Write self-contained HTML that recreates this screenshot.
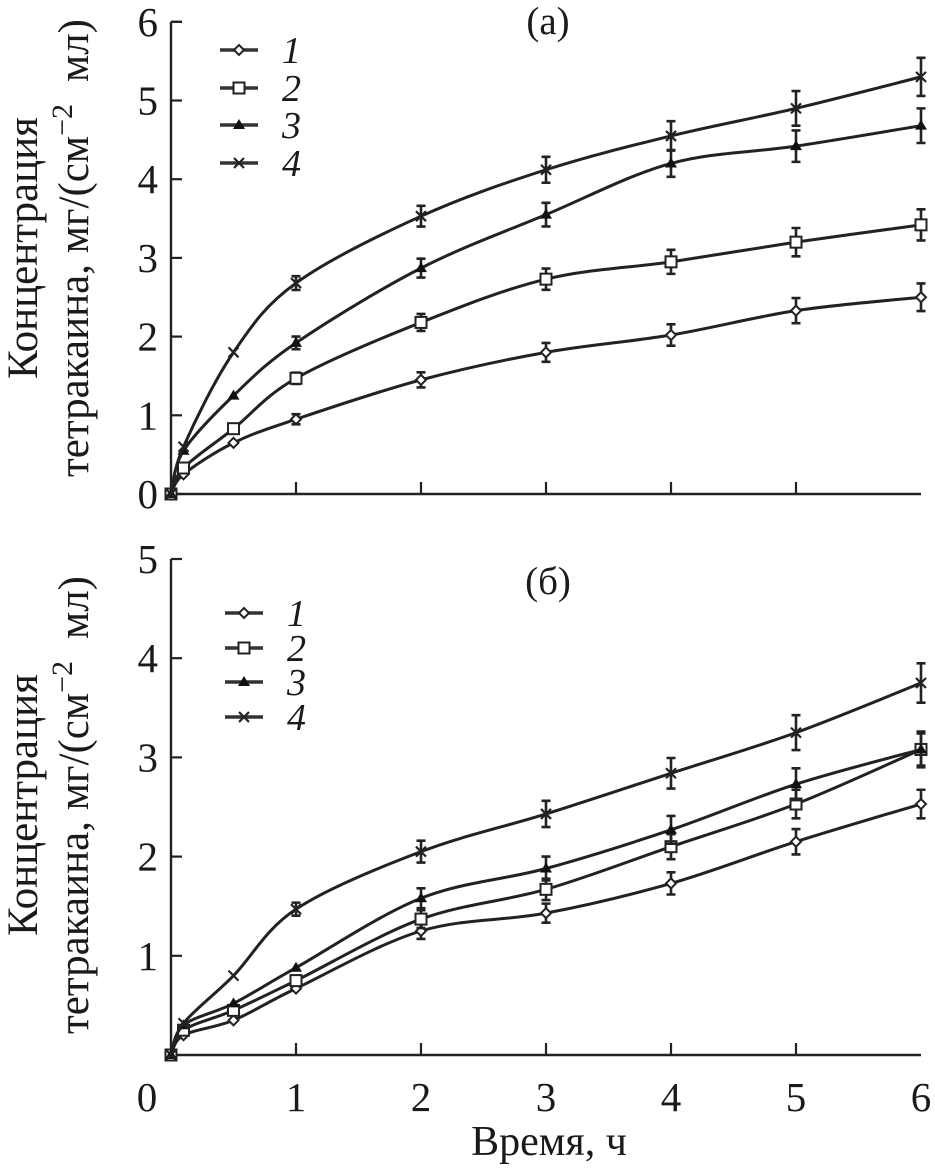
<!DOCTYPE html>
<html><head><meta charset="utf-8"><style>
html,body{margin:0;padding:0;background:#fff}
svg text{font-family:"Liberation Serif",serif;fill:#1a1a1a}
</style></head><body>
<svg id="chart" width="935" height="1171" viewBox="0 0 935 1171" xmlns="http://www.w3.org/2000/svg"></svg>
<script>
const times = [0, 0.1, 0.5, 1, 2, 3, 4, 5, 6];
const seriesNames = ["1", "2", "3", "4"];
const topS1 = [0, 0.25, 0.65, 0.95, 1.45, 1.8, 2.02, 2.33, 2.5];
const topS2 = [0, 0.33, 0.83, 1.47, 2.18, 2.73, 2.95, 3.2, 3.42];
const topS3 = [0, 0.55, 1.25, 1.92, 2.87, 3.55, 4.2, 4.42, 4.68];
const topS4 = [0, 0.6, 1.8, 2.68, 3.53, 4.12, 4.55, 4.9, 5.3];
const botS1 = [0, 0.2, 0.35, 0.67, 1.25, 1.43, 1.73, 2.15, 2.53];
const botS2 = [0, 0.25, 0.45, 0.75, 1.37, 1.67, 2.1, 2.53, 3.08];
const botS3 = [0, 0.3, 0.52, 0.88, 1.58, 1.88, 2.27, 2.73, 3.08];
const botS4 = [0, 0.32, 0.8, 1.47, 2.05, 2.43, 2.84, 3.25, 3.75];
const topErr = [0, 0.05, 0.05, 0.08, 0.12, 0.15, 0.17, 0.2, 0.22];
const botErr = [0, 0.04, 0.05, 0.06, 0.1, 0.12, 0.14, 0.16, 0.18];
const xTicks = [0, 1, 2, 3, 4, 5, 6];
const topYTicks = [0, 1, 2, 3, 4, 5, 6];
const botYTicks = [1, 2, 3, 4, 5];

const svg = document.getElementById('chart');
const NS = 'http://www.w3.org/2000/svg';
function mk(tag, attrs, parent) {
  const e = document.createElementNS(NS, tag);
  for (const k in attrs) e.setAttribute(k, attrs[k]);
  (parent || svg).appendChild(e);
  return e;
}
const X0 = 171, XS = 125;
const xPos = t => X0 + t * XS;
const COL = '#222';

function marker(g, kind, x, y) {
  if (kind === 0) mk('path', {d:`M${x} ${y-5}L${x+5} ${y}L${x} ${y+5}L${x-5} ${y}Z`, fill:'#fff', stroke:COL, 'stroke-width':2}, g);
  else if (kind === 1) mk('rect', {x:x-5.5, y:y-5.5, width:11, height:11, fill:'#fff', stroke:COL, 'stroke-width':2}, g);
  else if (kind === 2) mk('path', {d:`M${x} ${y-6}L${x+6} ${y+4}L${x-6} ${y+4}Z`, fill:'#111'}, g);
  else mk('path', {d:`M${x-5} ${y-5}L${x+5} ${y+5}M${x+5} ${y-5}L${x-5} ${y+5}`, stroke:COL, 'stroke-width':2.2}, g);
}

function panel(name, y0, ys, ymax, yTicks, series, err, label, legY, legX) {
  const yPos = v => y0 - v * ys;
  const g = mk('g', {});
  
  
  const top = yPos(ymax);
  const ax = mk('path', {d:`M${X0} ${top}V${y0}H${xPos(6)}`, fill:'none', stroke:'#222', 'stroke-width':2.4}, g);
  
  
  yTicks.forEach(v => {
    mk('line', {x1:X0, x2:X0+11, y1:yPos(v), y2:yPos(v), stroke:'#222', 'stroke-width':2.2}, g);
    const t = mk('text', {x:X0-13, y:yPos(v)+14, 'font-size':41, 'text-anchor':'end'}, g);
    t.textContent = v;
    
    
  });
  if (ymax === 6) mk('line', {x1:X0, x2:X0+11, y1:top, y2:top, stroke:'#222', 'stroke-width':2.2}, g);
  xTicks.forEach(v => {
    if (v > 0 && v < 6) mk('line', {x1:xPos(v), x2:xPos(v), y1:y0, y2:y0-12, stroke:'#222', 'stroke-width':2.2}, g);
  });
  series.forEach((vals, si) => {
    const sg = mk('g', {}, g);
    
    
    const pts = vals.map((v, i) => [xPos(times[i]), yPos(v)]);
    let d = 'M' + pts[0].join(' ');
    for (let i = 1; i < pts.length; i++) {
      const p0 = pts[Math.max(0, i-2)], p1 = pts[i-1], p2 = pts[i], p3 = pts[Math.min(pts.length-1, i+1)];
      const c1 = [p1[0]+(p2[0]-p0[0])/6, p1[1]+(p2[1]-p0[1])/6];
      const c2 = [p2[0]-(p3[0]-p1[0])/6, p2[1]-(p3[1]-p1[1])/6];
      d += `C${c1[0]} ${c1[1]} ${c2[0]} ${c2[1]} ${p2[0]} ${p2[1]}`;
    }
    const ln = mk('path', {d, fill:'none', stroke:COL, 'stroke-width':3}, sg);
    
    
    vals.forEach((v, i) => {
      const x = xPos(times[i]);
      const e = err[i] * (0.8 + 0.1 * si);
      if (e > 0.06) {
        const a = yPos(v+e), b = yPos(v-e);
        mk('path', {d:`M${x} ${a}V${b}M${x-4.5} ${a}H${x+4.5}M${x-4.5} ${b}H${x+4.5}`, stroke:COL, 'stroke-width':2.6, fill:'none'}, sg);
      }
      marker(sg, si, x, yPos(v));
    });
  });
  seriesNames.forEach((n, i) => {
    const lg = mk('g', {}, g);
    
    
    const y = legY[i];
    mk('line', {x1:legX, x2:legX+38, y1:y, y2:y, stroke:'#333', 'stroke-width':3.4}, lg);
    marker(lg, i, legX+19, y);
    const t = mk('text', {x:legX+62, y:y+13, 'font-size':38, 'font-style':'italic'}, lg);
    t.textContent = n;
  });
  const pl = mk('text', {x:548, y:label[1], 'font-size':39, 'text-anchor':'middle'}, g);
  pl.textContent = label[0];
  
  
}

function ylab(cy, name) {
  const g = mk('g', {transform:`translate(0 ${cy}) rotate(-90)`});
  
  
  const t1 = mk('text', {x:0, y:37, 'font-size':43, 'text-anchor':'middle'}, g);
  t1.textContent = 'Концентрация';
  const t2 = mk('text', {x:0, y:88, 'font-size':43, 'text-anchor':'middle'}, g);
  t2.innerHTML = 'тетракаина, мг/(см<tspan dy="-16" font-size="30">−2</tspan><tspan dy="16" dx="22">мл)</tspan>';
}

panel('panel-a', 494, 78.7, 6, topYTicks, [topS1, topS2, topS3, topS4], topErr, ['(а)', 34], [50, 88, 125, 163], 220);
panel('panel-b', 1055, 99.2, 5, botYTicks, [botS1, botS2, botS3, botS4], botErr, ['(б)', 594], [613, 648, 682, 717], 225);

xTicks.forEach(v => {
  const t = mk('text', {x:v === 0 ? 147 : xPos(v), y:1111, 'font-size':41, 'text-anchor':'middle'});
  t.textContent = v;
  
  
});
const xl = mk('text', {x:549, y:1155, 'font-size':42, 'text-anchor':'middle'});
xl.textContent = 'Время, ч';


ylab(248, 'y-axis-title-a');
ylab(805, 'y-axis-title-b');
</script>
</body></html>
